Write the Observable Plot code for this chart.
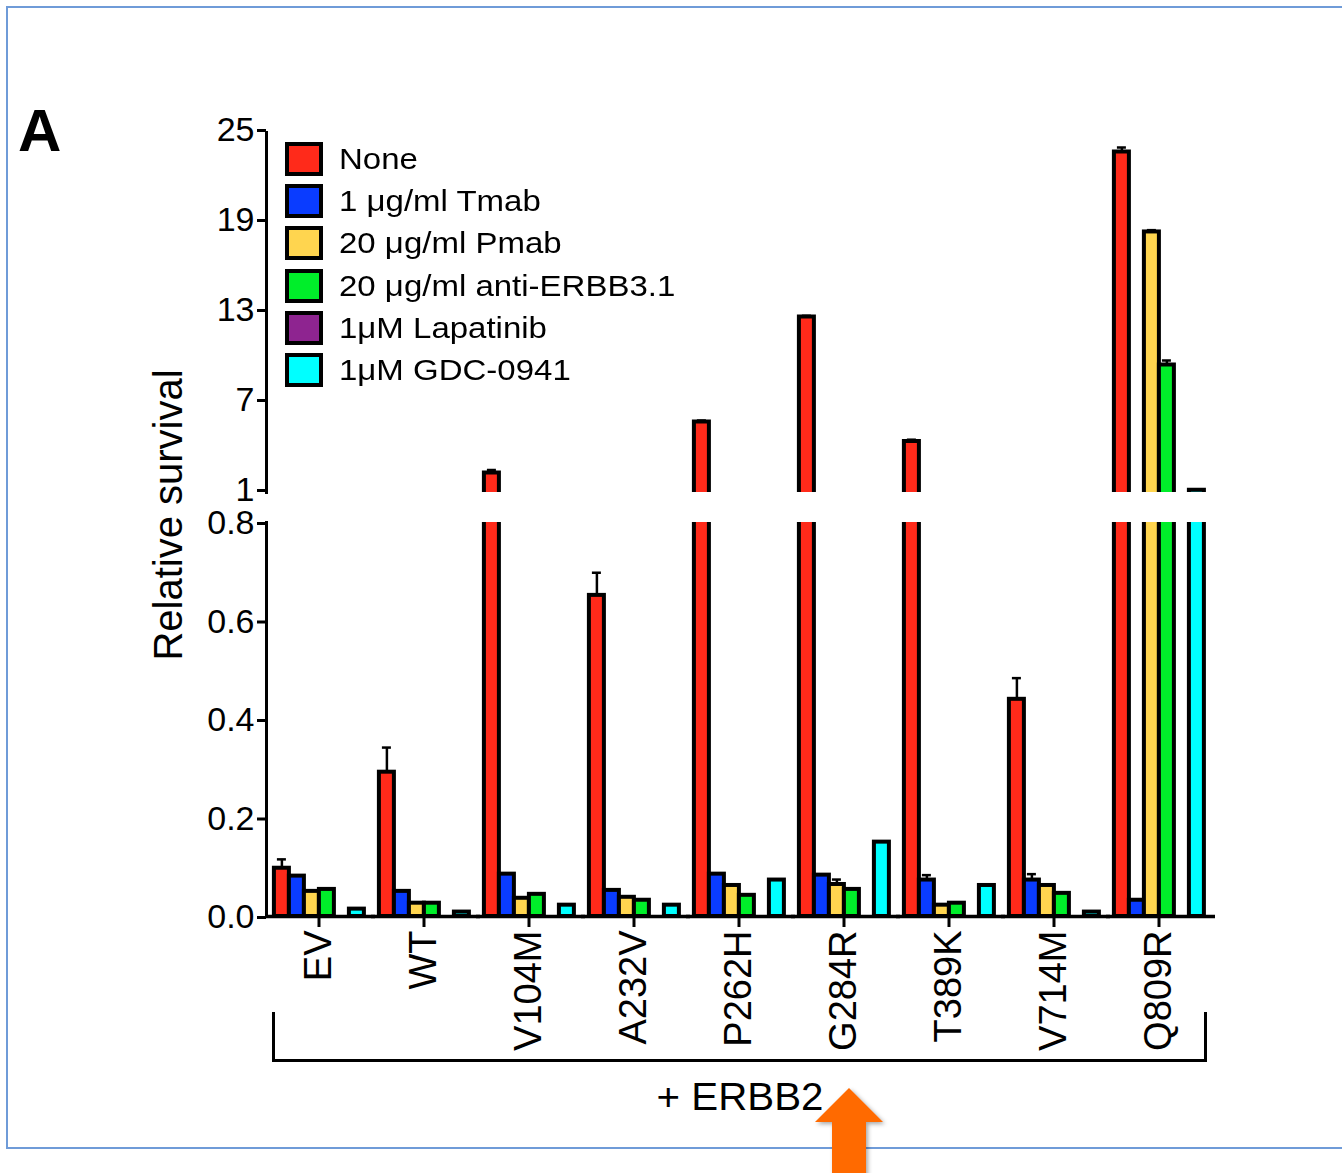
<!DOCTYPE html>
<html><head><meta charset="utf-8">
<script src="https://cdn.jsdelivr.net/npm/d3@7"></script>
<script src="https://cdn.jsdelivr.net/npm/@observablehq/plot@0.6"></script>
<style>
body{margin:0;background:#fff;overflow:hidden;}
#wrap{position:relative;width:1342px;height:1173px;overflow:hidden;font-family:"Liberation Sans",Arial,sans-serif;color:#000;}
.abs{position:absolute;}
.sw{position:absolute;box-sizing:border-box;width:38px;height:34px;border:4px solid #000;}
.lt{position:absolute;font-size:30px;line-height:34px;white-space:nowrap;transform:scaleX(1.1);transform-origin:left center;}
</style></head><body><div id="wrap"></div>
<script>
const mutations = ["EV","WT","V104M","A232V","P262H","G284R","T389K","V714M","Q809R"];
const treatments = ["None","1 μg/ml Tmab","20 μg/ml Pmab","20 μg/ml anti-ERBB3.1","1μM Lapatinib","1μM GDC-0941"];
const colors = ["#ff2a1a","#0a3cff","#ffd54f","#00ee2a","#8e2490","#00ffff"];

const noneVals = [0.098, 0.293, 2.3, 0.652, 5.7, 12.7, 4.4, 0.441, 23.7];
const noneErr  = [0.018, 0.05, 0.2, 0.046, 0.1, 0.08, 0.12, 0.043, 0.3];
const tmabVals = [0.082, 0.051, 0.086, 0.053, 0.086, 0.084, 0.074, 0.074, 0.033];
const tmabErr  = [0, 0, 0, 0, 0, 0, 0.01, 0.012, 0];
const pmabVals = [0.051, 0.027, 0.037, 0.039, 0.063, 0.065, 0.023, 0.063, 18.37];
const pmabErr  = [0, 0, 0, 0, 0, 0.01, 0, 0, 0.12];
const antiVals = [0.055, 0.027, 0.045, 0.033, 0.043, 0.055, 0.027, 0.047, 9.5];
const antiErr  = [0, 0, 0, 0, 0, 0, 0, 0, 0.3];
const lapVals  = [0, 0, 0, 0, 0, 0, 0, 0, 0];
const lapErr   = [0, 0, 0, 0, 0, 0, 0, 0, 0];
const gdcVals  = [0.015, 0.009, 0.023, 0.023, 0.074, 0.151, 0.063, 0.009, 1.15];
const gdcErr   = [0, 0, 0, 0, 0, 0, 0, 0, 0];

const upperTicks = [1, 7, 13, 19, 25];
const lowerTicks = [0, 0.2, 0.4, 0.6, 0.8];

const series = [[noneVals,noneErr],[tmabVals,tmabErr],[pmabVals,pmabErr],[antiVals,antiErr],[lapVals,lapErr],[gdcVals,gdcErr]];
const rows = [];
mutations.forEach((m,i)=>series.forEach(([v,e],j)=>rows.push({mutation:m,treatment:treatments[j],value:v[i],err:e[i]})));
const errRows = rows.filter(d=>d.err>0);

const W = 1342, left = 263.1, groupW = 105.75;
const common = {
  width: W,
  marginLeft: left,
  marginRight: W - left - groupW*mutations.length,
  x: {domain: treatments, paddingInner: 0, paddingOuter: 0.41, axis: null},
  color: {domain: treatments, range: colors},
  style: {background: "transparent", overflow: "visible", fontFamily: "'Liberation Sans', Arial, sans-serif", color: "#000"}
};
function dataMarks(){
  return [
    Plot.barY(rows, {fx:"mutation", x:"treatment", y1:0, y2:"value", fill:"treatment", stroke:"#000", strokeWidth:4, clip:true}),
    Plot.ruleX(errRows, {fx:"mutation", x:"treatment", y1:"value", y2:d=>d.value+d.err, stroke:"#000", strokeWidth:2.5, clip:true}),
    Plot.tickY(errRows, {fx:"mutation", x:"treatment", y:d=>d.value+d.err, stroke:"#000", strokeWidth:2.5, insetLeft:3, insetRight:3, clip:true})
  ];
}
const upper = Plot.plot({
  ...common,
  height: 400, marginTop: 20, marginBottom: 20,
  fx: {domain: mutations, paddingInner: 0, paddingOuter: 0, axis: null, label: null},
  y: {domain: [1,25], label: null},
  marks: [
    ...dataMarks(),
    Plot.axisY({ticks: upperTicks, tickSize: 9, tickPadding: 3, fontSize: 34, strokeWidth: 3, dy: -2, label: null}),
    Plot.frame({anchor: "left", facetAnchor: "left", strokeWidth: 3})
  ]
});
const lower = Plot.plot({
  ...common,
  height: 564, marginTop: 20, marginBottom: 150,
  fx: {domain: mutations, paddingInner: 0, paddingOuter: 0, label: null},
  y: {domain: [0,0.8], label: null},
  marks: [
    ...dataMarks(),
    Plot.ruleY([0], {stroke:"#000", strokeWidth: 3.5, insetRight: -4}),
    Plot.axisY({ticks: lowerTicks, tickFormat: d3.format(".1f"), tickSize: 9, tickPadding: 3, fontSize: 34, strokeWidth: 3, dy: 1, label: null}),
    Plot.axisFx({anchor: "bottom", tickRotate: -90, tickSize: 11, tickPadding: 3, fontSize: 38, strokeWidth: 3, label: null}),
    Plot.frame({anchor: "left", facetAnchor: "left", strokeWidth: 3})
  ]
});

const wrap = document.getElementById("wrap");
const fr = document.createElement("div");
fr.className = "abs";
Object.assign(fr.style, {left:"6px", top:"6px", width:"1400px", height:"1143px", border:"2px solid #6f9bd8", boxSizing:"border-box"});
wrap.appendChild(fr);

upper.style.position = "absolute"; upper.style.left = "0px"; upper.style.top = "112px";
lower.style.position = "absolute"; lower.style.left = "0px"; lower.style.top = "502px";
wrap.appendChild(upper);
wrap.appendChild(lower);

const A = document.createElement("div");
A.className = "abs"; A.textContent = "A";
Object.assign(A.style, {left:"18px", top:"101px", fontSize:"60px", fontWeight:"bold", lineHeight:"60px"});
wrap.appendChild(A);

const yt = document.createElement("div");
yt.className = "abs"; yt.textContent = "Relative survival";
Object.assign(yt.style, {left:"168px", top:"515px", fontSize:"40px", lineHeight:"40px", whiteSpace:"nowrap", transform:"translate(-50%,-50%) rotate(-90deg)"});
wrap.appendChild(yt);

treatments.forEach((t,i)=>{
  const top = 142 + i*42.2;
  const s = document.createElement("div");
  s.className = "sw"; s.style.left = "285px"; s.style.top = top+"px"; s.style.background = colors[i];
  wrap.appendChild(s);
  const l = document.createElement("div");
  l.className = "lt"; l.style.left = "339px"; l.style.top = top+"px"; l.textContent = t;
  wrap.appendChild(l);
});

const br = document.createElement("div");
br.className = "abs";
Object.assign(br.style, {left:"272px", top:"1012px", width:"935px", height:"50px", border:"3.5px solid #000", borderTop:"none", boxSizing:"border-box"});
wrap.appendChild(br);

const eb = document.createElement("div");
eb.className = "abs"; eb.textContent = "+ ERBB2";
Object.assign(eb.style, {left:"740px", top:"1097px", fontSize:"38px", lineHeight:"40px", whiteSpace:"nowrap", transform:"translate(-50%,-50%) scaleX(1.06)"});
wrap.appendChild(eb);

const ns = "http://www.w3.org/2000/svg";
const asvg = document.createElementNS(ns, "svg");
asvg.setAttribute("width", W); asvg.setAttribute("height", 1173);
asvg.style.position = "absolute"; asvg.style.left = "0"; asvg.style.top = "0";
asvg.innerHTML = '<defs><filter id="sh" x="-20%" y="-20%" width="150%" height="150%"><feDropShadow dx="2" dy="2" stdDeviation="2" flood-color="#000" flood-opacity="0.35"/></filter></defs>' +
  '<polygon points="849,1088 883,1122 866,1122 866,1180 832,1180 832,1122 815,1122" fill="#ff6a00" filter="url(#sh)"/>';
wrap.appendChild(asvg);
</script></body></html>
